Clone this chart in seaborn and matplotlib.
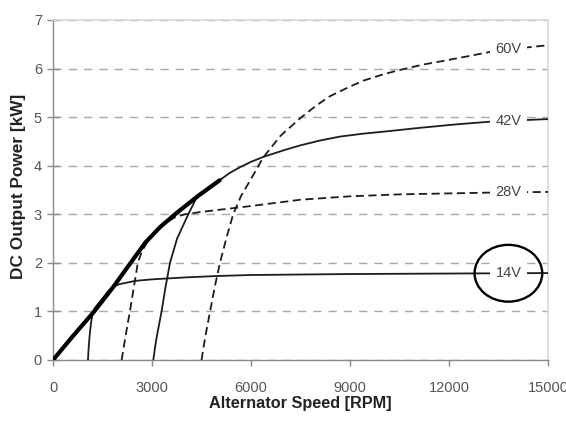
import numpy as np
import pandas as pd
import matplotlib
matplotlib.use("Agg")
import matplotlib.pyplot as plt
from matplotlib.patches import Ellipse
import seaborn as sns

# ---- data ----
envelope_rpm = [0, 600, 1250, 1800, 2300, 2800, 3250, 3750, 4400, 5050]
envelope_kw = [0, 0.49, 1.0, 1.48, 1.95, 2.42, 2.74, 3.03, 3.38, 3.7]

v14_rpm = [1060, 1080, 1110, 1150, 1210, 1300, 1450, 1650, 1800, 2000, 2500, 3000,
           4000, 5000, 6000, 7500, 9000, 12000, 15000]
v14_kw = [0, 0.25, 0.5, 0.75, 1.0, 1.1, 1.22, 1.4, 1.5, 1.56, 1.63, 1.66,
          1.7, 1.73, 1.75, 1.76, 1.77, 1.78, 1.79]

v28_rpm = [2080, 2140, 2200, 2330, 2450, 2570, 2700, 2850, 3100, 3400, 3700, 4000,
           4400, 5000, 6000, 7500, 9000, 10500, 12000, 13500, 15000]
v28_kw = [0, 0.25, 0.5, 1.0, 1.5, 2.0, 2.25, 2.42, 2.63, 2.82, 2.94, 3.0,
          3.04, 3.09, 3.17, 3.3, 3.37, 3.41, 3.43, 3.45, 3.46]

v42_rpm = [3040, 3090, 3150, 3290, 3410, 3545, 3760, 4100, 4355, 4700, 5050, 5350,
           5670, 6000, 6370, 7000, 7500, 8100, 8700, 9400, 10000, 11120, 12200, 13300, 15000]
v42_kw = [0, 0.25, 0.5, 1.0, 1.5, 2.0, 2.5, 3.0, 3.35, 3.53, 3.7, 3.85,
          3.97, 4.08, 4.18, 4.32, 4.42, 4.52, 4.6, 4.66, 4.7, 4.78, 4.85, 4.91, 4.96]

v60_rpm = [4500, 4560, 4620, 4760, 4900, 5060, 5250, 5460, 5700, 6020, 6370, 6900,
           7530, 8000, 8390, 9000, 9400, 10000, 10500, 11200, 12000, 12700, 13300, 14000, 15000]
v60_kw = [0, 0.25, 0.5, 1.0, 1.5, 2.0, 2.5, 3.0, 3.38, 3.75, 4.17, 4.62,
          5.0, 5.25, 5.43, 5.63, 5.75, 5.88, 5.97, 6.08, 6.18, 6.27, 6.35, 6.41, 6.48]

series_names = ["14V", "28V", "42V", "60V"]
x_ticks = [0, 3000, 6000, 9000, 12000, 15000]
y_ticks = [0, 1, 2, 3, 4, 5, 6, 7]
x_label = "Alternator Speed [RPM]"
y_label = "DC Output Power [kW]"
label_rpm = 13800
circled = "14V"

# ---- build table ----
curves = {"14V": (v14_rpm, v14_kw), "28V": (v28_rpm, v28_kw),
          "42V": (v42_rpm, v42_kw), "60V": (v60_rpm, v60_kw)}
rows = []
for name in series_names:
    xs, ys = curves[name]
    for a, b in zip(xs, ys):
        rows.append({"rpm": a, "kw": b, "series": name})
df = pd.DataFrame(rows)
env = pd.DataFrame({"rpm": envelope_rpm, "kw": envelope_kw})

sns.set_theme(style="white")
plt.rcParams["font.family"] = ["Liberation Sans", "DejaVu Sans"]

fig = plt.figure(figsize=(5.66, 4.22), dpi=100)
ax = fig.add_axes([0.09364, 0.14692, 0.87456, 0.80569])

ink = "#1c1c1c"
sns.lineplot(data=df, x="rpm", y="kw", hue="series", style="series",
             palette={n: ink for n in series_names},
             dashes={"14V": "", "28V": (4.5, 2.5), "42V": "", "60V": (4.5, 2.5)},
             estimator=None, sort=False, legend=False,
             linewidth=1.3, ax=ax, zorder=3)
sns.lineplot(data=env, x="rpm", y="kw", color="black", linewidth=3.0,
             estimator=None, sort=False, legend=False, ax=ax, zorder=4)
for ln in ax.get_lines():
    ln.set_solid_joinstyle("round")
    ln.set_dash_joinstyle("round")

ax.set_xlim(0, 15000)
ax.set_ylim(0, 7)
ax.set_xticks(x_ticks)
ax.set_yticks(y_ticks)
ax.set_xticklabels([str(t) for t in x_ticks])
ax.set_yticklabels([str(t) for t in y_ticks])

ax.grid(False)
ax.yaxis.grid(True, linestyle=(0, (6, 5)), color="#a8a8a8", linewidth=1.0)
ax.set_axisbelow(True)

for s in ["left", "bottom"]:
    ax.spines[s].set_color("#8a8a8a")
    ax.spines[s].set_linewidth(1.0)
for s in ["top", "right"]:
    ax.spines[s].set_color("#d8d8d8")
    ax.spines[s].set_linewidth(1.2)
    ax.spines[s].set_visible(True)

ax.tick_params(axis="x", which="major", direction="out", length=4, width=1,
               color="#8a8a8a", pad=11, labelsize=10.5, labelcolor="#555555")
ax.tick_params(axis="y", which="major", direction="inout", length=8, width=1,
               color="#8a8a8a", pad=4, labelsize=10.5, labelcolor="#555555")
ax.tick_params(bottom=True, left=True)

ax.set_xlabel(x_label, fontsize=11.7, fontweight="bold", color="#222222")
ax.set_ylabel(y_label, fontsize=12.4, fontweight="bold", color="#222222")
ax.xaxis.set_label_coords(0.5, -0.106)
ax.yaxis.set_label_coords(-0.055, 0.51)

for name in series_names:
    xs, ys = curves[name]
    yv = float(np.interp(label_rpm, xs, ys))
    ax.text(label_rpm, yv, name, ha="center", va="center", fontsize=10.5,
            color="#444444", zorder=6,
            bbox=dict(boxstyle="square,pad=0.35", facecolor="white",
                      edgecolor="none"))
    if name == circled:
        ax.add_patch(Ellipse((label_rpm, yv), width=2050, height=1.17,
                             facecolor="none", edgecolor="black",
                             linewidth=1.7, zorder=7))

fig.savefig("out.png", dpi=100)
